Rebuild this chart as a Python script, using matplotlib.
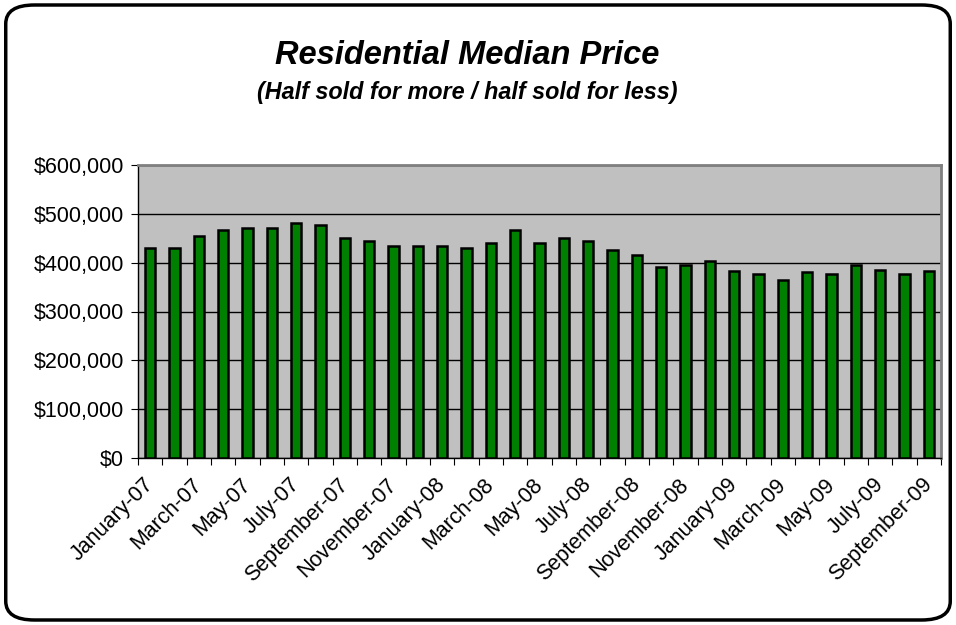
import matplotlib
matplotlib.use("Agg")
import matplotlib.pyplot as plt
from matplotlib.patches import FancyBboxPatch
from matplotlib.ticker import FuncFormatter
import numpy as np

plt.rcParams['font.family'] = ['Liberation Sans', 'DejaVu Sans']

months = ["January", "February", "March", "April", "May", "June", "July",
          "August", "September", "October", "November", "December"]
years = ["07", "08", "09"]
labels = [m + "-" + y for y in years for m in months][:33]

prices = [430000, 430000, 455000, 466000, 470000, 471000, 481000, 477000,
          450000, 445000, 435000, 435000, 435000, 430000, 440000, 466000,
          441000, 450000, 445000, 425000, 415000, 392000, 396000, 404000,
          383000, 376000, 365000, 381000, 376000, 396000, 385000, 376000,
          383000]

fig = plt.figure(figsize=(9.56, 6.25), dpi=100)

# rounded frame around the whole chart
frame = FancyBboxPatch((0.006, 0.008), 0.988, 0.984,
                       boxstyle="round,pad=0,rounding_size=0.03",
                       transform=fig.transFigure, fill=False,
                       edgecolor="black", linewidth=2.5, zorder=10)
fig.patches.append(frame)

ax = fig.add_axes([0.1444, 0.2672, 0.8399, 0.4688])
ax.set_facecolor("#C0C0C0")

x = np.arange(len(prices))
ax.bar(x, prices, width=0.42, color="#008000", edgecolor="black",
       linewidth=1.8, zorder=3)

ax.set_xlim(-0.5, len(prices) - 0.5)
ax.set_ylim(0, 600000)
ax.set_yticks(np.arange(0, 600001, 100000))
ax.yaxis.set_major_formatter(FuncFormatter(lambda v, p: "${:,.0f}".format(v)))
ax.grid(axis="y", color="black", linewidth=1, zorder=1)

# ticks between categories, labels every other month
ax.set_xticks(np.arange(-0.5, len(prices), 1))
ax.set_xticklabels([])
ax.set_xticks(x[::2], minor=True)
ax.set_xticklabels(labels[::2], minor=True, rotation=45, ha="right",
                   va="center", rotation_mode="anchor", fontsize=15.5)
ax.tick_params(axis="x", which="minor", length=0, pad=17)
ax.tick_params(axis="x", which="major", length=5, direction="out", color="black")
ax.tick_params(axis="y", length=5, direction="out", labelsize=15.5, pad=5)

for side in ["top", "right"]:
    ax.spines[side].set_color("#808080")
    ax.spines[side].set_linewidth(2)
for side in ["left", "bottom"]:
    ax.spines[side].set_color("black")
    ax.spines[side].set_linewidth(1)

fig.text(0.489, 0.912, "Residential Median Price", ha="center", va="center",
         fontsize=23.5, fontweight="bold", fontstyle="italic")
fig.text(0.489, 0.852, "(Half sold for more / half sold for less)", ha="center",
         va="center", fontsize=16.8, fontweight="bold", fontstyle="italic")

fig.savefig("out.png", dpi=100)
